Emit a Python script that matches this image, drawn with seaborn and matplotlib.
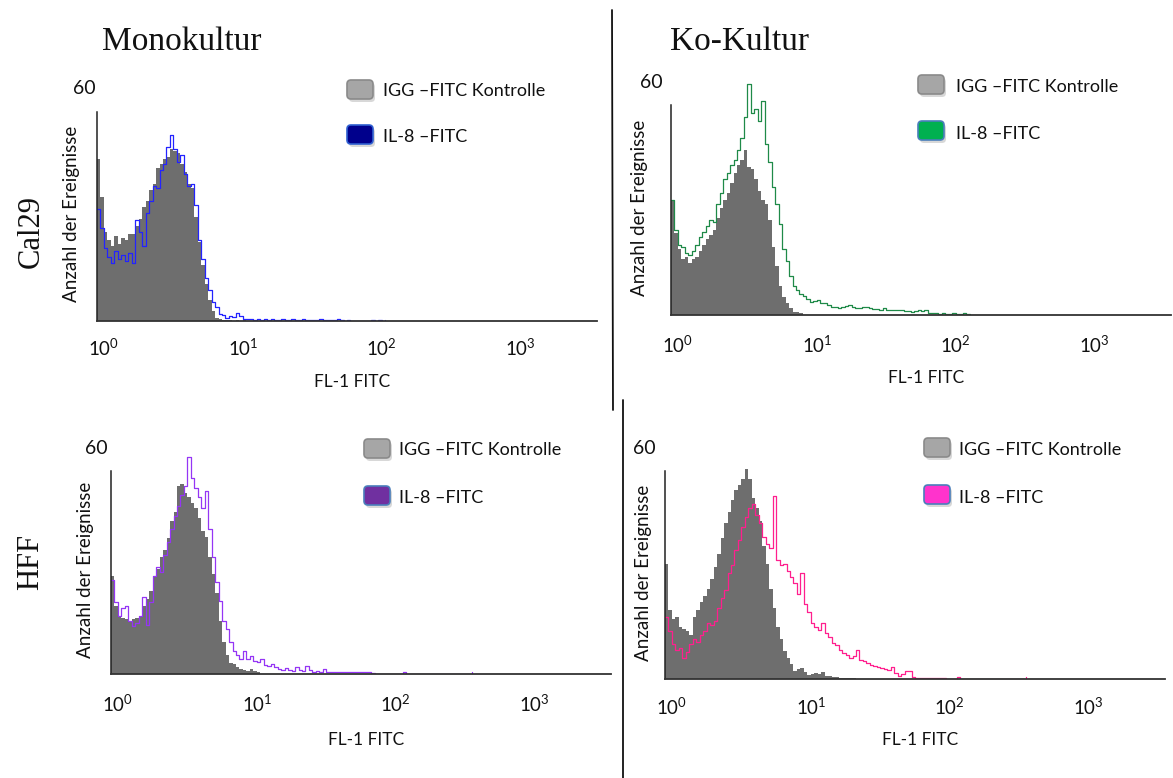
import numpy as np
import matplotlib
matplotlib.use("Agg")
import matplotlib.pyplot as plt
import seaborn as sns
import pandas as pd
from matplotlib.patches import FancyBboxPatch
from matplotlib.lines import Line2D
from matplotlib.transforms import IdentityTransform, ScaledTranslation
from matplotlib.ticker import FixedLocator, LogLocator, NullFormatter

sns.set_style("white")
plt.rcParams["font.family"] = ["Lato", "DejaVu Sans"]
plt.rcParams["mathtext.fontset"] = "custom"
plt.rcParams["mathtext.rm"] = "Lato"
plt.rcParams["mathtext.it"] = "Lato:italic"
plt.rcParams["mathtext.bf"] = "Lato:bold"

# ---------------- data (counts per channel, channels 0.025 decade wide, starting at 10^0) ----
column_titles = ["Monokultur", "Ko-Kultur"]
row_titles = ["Cal29", "HFF"]
legend_ctrl = "IGG \u2013FITC Kontrolle"
legend_il8 = "IL-8 \u2013FITC"
x_title = "FL-1 FITC"
y_title = "Anzahl der Ereignisse"
y_top_label = "60"
decades = [0, 1, 2, 3]

cal29_mono_ctrl = [42, 32, 23, 21, 19.5, 22, 20, 21.5, 21, 22.5, 22.5, 24.5, 26.5, 29.5, 31,
                   34, 35.5, 39.5, 40.5, 42, 42.5, 44.5, 44, 43.5, 40.5, 38.5, 35.5, 34.5, 27,
                   20.5, 14.5, 9.5, 5.5, 2.5, 0.8, 0.4, 0.3, 0.2, 0.3, 0.1, 0.2, 0.1, 0.2, 0.1,
                   0.1, 0.2, 0, 0.1, 0.1, 0.2, 0.1]
cal29_mono_il8 = [29, 24, 19, 16.5, 15, 18, 16, 17, 15.5, 17.5, 15, 26, 23, 19.5, 28, 31, 35,
                  34.5, 39, 40.5, 45, 48, 44.5, 41, 43, 38, 35, 35.5, 30, 21, 16, 11, 8, 5, 3.5,
                  1.7, 1.5, 0.9, 1.3, 1.0, 2.0, 1.2, 0.6, 0.4, 0.5, 0.3, 0.4, 0.3, 0.5, 0.3,
                  0.4, 0.3, 0.3, 0.5, 0.3, 0.3, 0.4, 0.3, 0.2, 0.4, 0.3, 0.2, 0.3, 0.2, 0.4,
                  0.2, 0.3, 0.2, 0.3, 0.4, 0.2, 0, 0.3, 0, 0, 0, 0, 0, 0, 0.3, 0, 0.3, 0, 0.3]

cal29_ko_ctrl = [29.6, 21, 17, 14.5, 15, 13.5, 14.5, 15, 16.5, 18, 19.5, 20.5, 22, 25, 27.5,
                 29.5, 31.5, 34, 36.5, 38.5, 40, 42.5, 38, 37.5, 35, 32, 29.5, 28.5, 24.5, 17.5,
                 12.5, 7.5, 4.7, 3, 1.7, 0.9, 0.9, 0.6, 0.3]
cal29_ko_il8 = [29.6, 22, 18, 17.5, 16, 15.5, 16.5, 18, 20, 21.5, 23, 24.5, 24, 28.5, 31.5, 35,
                36.5, 38.5, 40, 42.5, 45.5, 51, 59.5, 52, 53, 50, 55, 44, 39.5, 33, 28.5, 23.5,
                17, 14, 10, 7.5, 6.5, 5.5, 4.8, 4.0, 3.4, 3.6, 3.9, 3.2, 3.0, 2.6, 2.1, 2.0, 1.7,
                2.0, 2.3, 2.6, 2.0, 1.7, 1.8, 2.0, 2.1, 1.8, 1.5, 1.6, 1.4, 1.7, 1.4, 1.3, 1.2,
                1.3, 1.3, 1.1, 1.0, 0.9, 1.0, 1.3, 1.0, 1.2, 0.6, 0.5, 0.4, 0.3, 0.4, 0.3, 0.2,
                0.4, 0.3, 0.2, 0.4, 0.3, 0.2]

hff_mono_ctrl = [26, 18, 15.5, 15, 14.5, 14, 14.5, 15, 15.5, 18, 20, 22, 26, 28, 31, 33, 36,
                 40.5, 43, 50, 50.5, 48, 47, 45.5, 44, 41.5, 38, 36.5, 31, 26.5, 21.5, 14, 8.5,
                 5, 3, 2.6, 1.8, 1.4, 1.0, 0.8, 1.3, 0.7, 0.6, 0.3]
hff_mono_il8 = [25, 19, 15.5, 17.5, 18, 14, 12.8, 13.5, 15.5, 20.5, 13, 19, 26, 28.5, 27, 31.5,
                35, 38.5, 42, 44.5, 47.5, 50, 57.5, 52, 49.5, 47, 44, 48.5, 38.5, 31, 24.5, 19.5,
                14, 12, 8.5, 6.2, 5, 4, 6, 4, 4.8, 3.5, 3.1, 3.9, 2.3, 2.0, 2.6, 1.8, 1.3, 1.1,
                1.5, 1.0, 0.9, 1.8, 1.0, 0.8, 2.0, 1.0, 0.6, 0.7, 0.5, 1.3, 0.6, 0.5, 0.6, 0.5,
                0.6, 0.5, 0.6, 0.5, 0.5, 0.6, 0.5, 0.4, 0.5, 0.3, 0, 0, 0, 0, 0, 0, 0, 0, 0.5,
                0, 0, 0, 0, 0, 0, 0, 0, 0, 0, 0, 0, 0, 0, 0, 0, 0, 0, 0, 0.5]

hff_ko_ctrl = [30, 18, 15.5, 16, 13.5, 13, 12.5, 11.5, 16, 18, 20, 21.5, 23.5, 26, 29, 32.5,
               36.5, 40.5, 43.5, 46.5, 49, 50.5, 52, 54.5, 52, 47, 44.5, 41, 34.5, 30, 23.5,
               18.5, 13.5, 10.5, 7.3, 5.5, 3.8, 2.0, 2.5, 2.9, 1.8, 1.1, 1.3, 1.5, 1.2, 1.7,
               0.9, 0.7, 0.5, 0.4, 0.3, 0.3, 0.2, 0.3, 0.2, 0.2]
hff_ko_il8 = [16, 12.5, 9, 7.5, 8, 5.5, 7, 9, 10.5, 9.5, 11.5, 12.5, 14.5, 14, 15, 18.5, 21, 23,
              27.5, 29.5, 33.5, 36, 39.5, 42, 44.5, 45.5, 42.5, 40.5, 37, 35, 34, 47.5, 31,
              29.5, 30, 28, 26.5, 25, 22, 27.5, 19.5, 17.5, 14.5, 13.5, 12.8, 14.5, 12, 11, 9.4,
              8.8, 7.6, 6.8, 6.2, 5.5, 5.9, 7.6, 5, 4.6, 4.2, 3.7, 3.3, 3.1, 2.9, 2.5, 2.4, 3.1,
              1.5, 0.7, 1.2, 2.0, 2.2, 0.4, 0.3, 0.3, 0.2, 0.3, 0.3, 0.2, 0.3, 0.2, 0.3, 0, 0,
              0, 0.4, 0, 0, 0, 0, 0, 0, 0, 0, 0, 0, 0, 0, 0, 0, 0, 0, 0, 0, 0, 0.4]

CTRL_FILL = "#6e6e6e"

# ---------------- layout (pixels, y measured from the top) ----------------
W, H = 1173, 778
fig = plt.figure(figsize=(W / 100, H / 100), dpi=100)
PX = IdentityTransform()


def P(x, y):
    return x, H - y


panels = [
    dict(ctrl=cal29_mono_ctrl, il8=cal29_mono_il8, color="#2323ff", box="#00008c", boxedge="#2f5fd0",
         left=97, base=321, top=89, pad60=1, ylab_dx=25, tick_dy=27, xlab_dy=61,
         box_x=347, box_y=(80, 125), text_x=383, text_y=(91, 137)),
    dict(ctrl=cal29_ko_ctrl, il8=cal29_ko_il8, color="#1f8a48", box="#00b050", boxedge="#4a7ebb",
         left=671, base=315, top=82, pad60=8, ylab_dx=31, tick_dy=30, xlab_dy=63,
         box_x=918, box_y=(75, 121), text_x=956, text_y=(87, 134)),
    dict(ctrl=hff_mono_ctrl, il8=hff_mono_il8, color="#9535f5", box="#7030a0", boxedge="#4a7ebb",
         left=111, base=674, top=448, pad60=3, ylab_dx=25, tick_dy=30, xlab_dy=66,
         box_x=364, box_y=(439, 486), text_x=399, text_y=(450, 498)),
    dict(ctrl=hff_ko_ctrl, il8=hff_ko_il8, color="#ff1f8e", box="#ff33cc", boxedge="#4a7ebb",
         left=665, base=679, top=448, pad60=9, ylab_dx=21, tick_dy=28, xlab_dy=61,
         box_x=924, box_y=(438, 485), text_x=959, text_y=(450, 498)),
]

AX_W = 500
XMAX = 10 ** 3.6
BIN = 0.025
TXT = "#111111"

for p in panels:
    h = p["base"] - p["top"]
    ax = fig.add_axes([p["left"] / W, (H - p["base"]) / H, AX_W / W, h / H])
    ax.set_xscale("log")

    xc = 10 ** (np.arange(len(p["ctrl"])) * BIN)
    ax.fill_between(xc, p["ctrl"], step="post", color=CTRL_FILL, lw=0, zorder=1)
    df = pd.DataFrame({"x": 10 ** (np.arange(len(p["il8"])) * BIN), "y": p["il8"]})
    sns.lineplot(data=df, x="x", y="y", ax=ax, color=p["color"], lw=0.9,
                 drawstyle="steps-post", estimator=None, zorder=2)

    ax.set_xlim(1, XMAX)
    ax.set_ylim(0, 60)
    ax.set_xlabel("")
    ax.set_ylabel("")
    ax.set_facecolor("none")
    for s in ["top", "right"]:
        ax.spines[s].set_visible(False)
    ax.spines["left"].set_bounds(0, 54)
    ax.spines["left"].set_linewidth(1.1)
    ax.spines["left"].set_color("#222222")
    ax.spines["bottom"].set_linewidth(1.3)
    ax.spines["bottom"].set_color("#333333")
    ax.spines["bottom"].set_zorder(3)

    ax.xaxis.set_major_locator(FixedLocator([10.0 ** d for d in decades]))
    ax.xaxis.set_minor_locator(LogLocator(base=10, subs=np.arange(2, 10)))
    ax.xaxis.set_minor_formatter(NullFormatter())
    ax.tick_params(axis="x", which="both", direction="out", length=3.4, width=0.9,
                   color="#333333", labelbottom=False)
    ax.set_yticks([])

    # tick labels
    for d in decades:
        ax.text(10.0 ** d, 0, r"$\mathregular{10^{%d}}$" % d, fontsize=13.5, color=TXT,
                ha="center", va="center",
                transform=ax.get_xaxis_transform()
                + ScaledTranslation(7 / 100, -p["tick_dy"] / 100, fig.dpi_scale_trans))

    right = p["left"] + AX_W
    # axis titles
    fig.text(*P((p["left"] + right) / 2 + 5, p["base"] + p["xlab_dy"]), x_title,
             transform=PX, ha="center", va="center", fontsize=12.5, color=TXT)
    fig.text(*P(p["left"] - p["ylab_dx"], p["top"] + 0.54 * h), y_title, rotation=90,
             transform=PX, ha="center", va="center", fontsize=13.5, color=TXT)
    fig.text(*P(p["left"] - p["pad60"], p["top"]), y_top_label, transform=PX,
             ha="right", va="center", fontsize=14, color=TXT)

    # legend boxes
    entries = [(legend_ctrl, "#a6a6a6", "#8a8a8a"), (legend_il8, p["box"], p["boxedge"])]
    for (label, fc, ec), by, ty in zip(entries, p["box_y"], p["text_y"]):
        bw, bh = 26, 19
        shadow = FancyBboxPatch(P(p["box_x"] + 2, by + bh + 3), bw, bh,
                                boxstyle="round,pad=0,rounding_size=4", transform=PX,
                                fc="#c8c8c8", ec="none", alpha=0.7, zorder=4)
        box = FancyBboxPatch(P(p["box_x"], by + bh), bw, bh,
                             boxstyle="round,pad=0,rounding_size=4", transform=PX,
                             fc=fc, ec=ec, lw=1.2, zorder=5)
        fig.add_artist(shadow)
        fig.add_artist(box)
        fig.text(*P(p["text_x"], ty), label, transform=PX, ha="left", va="center",
                 fontsize=13, color=TXT)

# column / row titles
fig.text(*P(102, 50), column_titles[0], transform=PX, ha="left", va="baseline",
         fontsize=24, family="Liberation Serif", color=TXT)
fig.text(*P(670, 50), column_titles[1], transform=PX, ha="left", va="baseline",
         fontsize=24, family="Liberation Serif", color=TXT)
fig.text(*P(31, 231), row_titles[0], transform=PX, ha="center", va="center", rotation=90,
         fontsize=22, family="Liberation Serif", color=TXT)
fig.text(*P(31, 562), row_titles[1], transform=PX, ha="center", va="center", rotation=90,
         fontsize=22, family="Liberation Serif", color=TXT)

# divider lines
fig.add_artist(Line2D([612, 613], [H - 10, H - 410], transform=PX, color=TXT, lw=1.3))
fig.add_artist(Line2D([623, 623], [H - 400, H - 778], transform=PX, color=TXT, lw=1.3))

fig.savefig("out.png", dpi=100)
